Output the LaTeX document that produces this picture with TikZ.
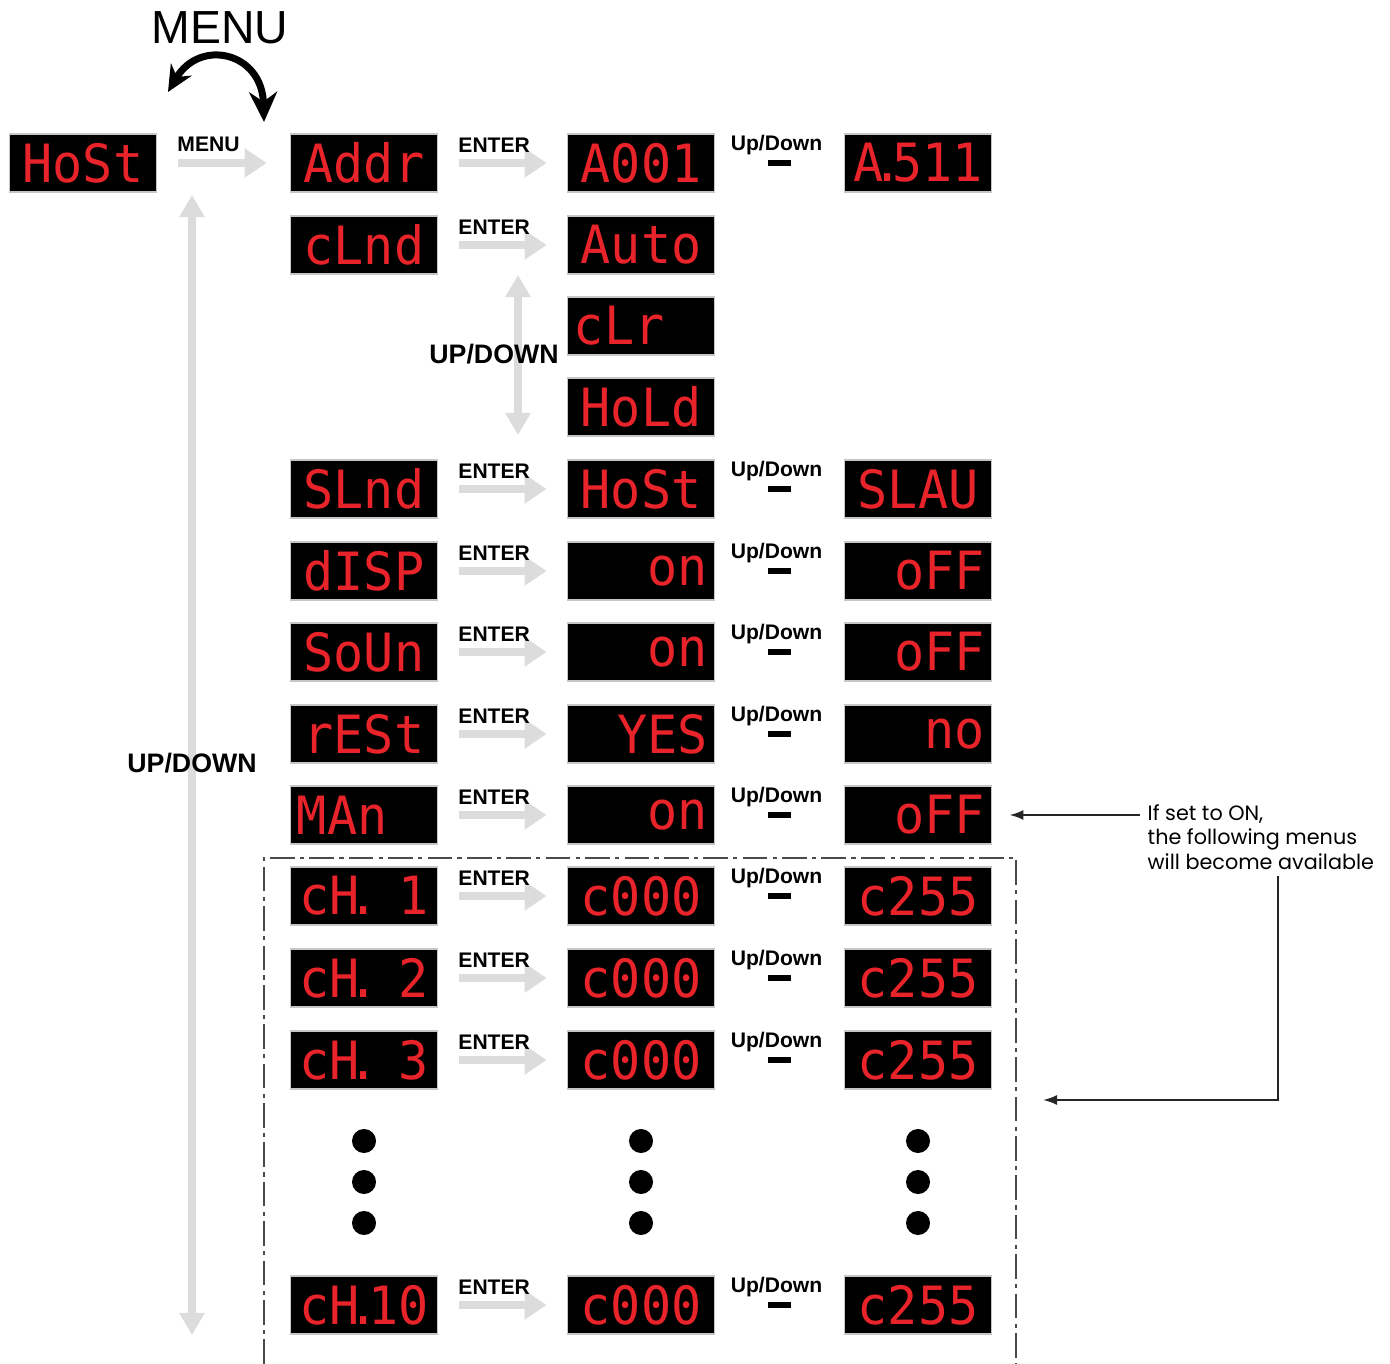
\documentclass[tikz,border=0pt]{standalone}
\usepackage{fontspec}
\setmainfont{Liberation Sans}
\newfontfamily\segfont[FakeStretch=0.95]{DejaVu Sans Mono}
\newfontfamily\notefont{Poppins}
\usetikzlibrary{arrows.meta,calc}
\definecolor{segred}{HTML}{E8232A}
\definecolor{arrowgray}{HTML}{DCDCDC}
\definecolor{framegray}{HTML}{4A4A4A}
\newcommand{\sdot}{\kern-0.2em.\kern-0.2em}
\newcommand{\sgap}{\hphantom{0}}
\tikzset{
  disp/.style={
    rectangle, fill=black, draw=gray!45, line width=0.5pt,
    minimum width=1.47cm, minimum height=0.58cm, inner sep=0pt,
    text width=1.34cm, align=center, text=segred,
    font=\segfont\fontsize{15}{15}\selectfont
  },
  dispr/.style={disp, align=right},
  displ/.style={disp, align=left},
  keylabel/.style={font=\bfseries\fontsize{6}{7}\selectfont, inner sep=0pt},
  biglabel/.style={font=\bfseries\fontsize{7.6}{9}\selectfont, inner sep=0pt},
  flowarrow/.style={draw=arrowgray, line width=0.08cm,
    -{Triangle[length=0.22cm,width=0.28cm]},
    shorten <=0.21cm, shorten >=0.2cm},
  updownarrow/.style={draw=arrowgray, line width=0.08cm,
    {Triangle[length=0.22cm,width=0.24cm]}-{Triangle[length=0.22cm,width=0.24cm]}},
  updash/.style={rectangle, fill=black, minimum width=0.23cm,
    minimum height=0.06cm, inner sep=0pt},
  menucurve/.style={draw=black, line width=0.07cm,
    {Stealth[length=0.3cm,width=0.28cm]}-{Stealth[length=0.26cm,width=0.24cm]}},
  chframe/.style={draw=framegray, line width=0.6pt,
    dash pattern=on 7pt off 1.5pt on 1.2pt off 1.5pt},
  note/.style={font=\notefont\fontsize{5.9}{6.95}\selectfont,
    align=left, inner sep=0pt},
  notearrow/.style={draw=black!85, line width=0.6pt,
    -{Latex[length=0.14cm,width=0.1cm]}},
}
\begin{document}
\begin{tikzpicture}[x=0.01cm,y=0.01cm]
  \fill[white] (0,0) rectangle (1390,-1364);
  \useasboundingbox (0,0) rectangle (1390,-1364);

  % left column: up/down through the menu
  \coordinate (udtop) at (192,-195);
  \coordinate (udbot) at (192,-1335);
  \draw[updownarrow] (udtop) -- (udbot);
  \node[biglabel] (udlabel) at (192,-763) {UP/DOWN};

  \coordinate (cltop) at (518,-275);
  \coordinate (clbot) at (518,-435);
  \draw[updownarrow] (cltop) -- (clbot);
  \node[biglabel] (cllabel) at (494,-354) {UP/DOWN};

  % MENU key
  \node[font=\fontsize{13.2}{14}\selectfont, inner sep=0pt] (menutop) at (220,-28) {MENU};
  \coordinate (menuR) at (264,-122);
  \coordinate (menuL) at (168,-92);
  \draw[menucurve] (menuR) .. controls (262,-52) and (200,-38) .. (menuL);

  \node[disp] (host) at (83,-163) {HoSt};
  \node[disp] (addr) at (364,-163) {Addr};
  \node[disp] (a001) at (641,-163) {A001};
  \node[disp] (a511) at (918,-163) {A\sdot511};
  \node[disp] (clnd) at (364,-245) {cLnd};
  \node[disp] (auto) at (641,-245) {Auto};
  \node[displ] (clr) at (641,-326) {cLr};
  \node[disp] (hold) at (641,-407) {HoLd};
  \node[disp] (slnd) at (364,-489) {SLnd};
  \node[disp] (hostb) at (641,-489) {HoSt};
  \node[disp] (slav) at (918,-489) {SLAU};
  \node[disp] (disp) at (364,-571) {dISP};
  \node[dispr] (on1) at (641,-571) {on};
  \node[dispr] (off1) at (918,-571) {oFF};
  \node[disp] (soun) at (364,-652) {SoUn};
  \node[dispr] (on2) at (641,-652) {on};
  \node[dispr] (off2) at (918,-652) {oFF};
  \node[disp] (rest) at (364,-734) {rESt};
  \node[dispr] (yes) at (641,-734) {YES};
  \node[dispr] (no) at (918,-734) {no};
  \node[displ] (man) at (364,-815) {MAn};
  \node[dispr] (on3) at (641,-815) {on};
  \node[dispr] (off3) at (918,-815) {oFF};
  \node[disp] (ch1) at (364,-896) {cH\sdot\sgap1};
  \node[disp] (c1a) at (641,-896) {c000};
  \node[disp] (c1b) at (918,-896) {c255};
  \node[disp] (ch2) at (364,-978) {cH\sdot\sgap2};
  \node[disp] (c2a) at (641,-978) {c000};
  \node[disp] (c2b) at (918,-978) {c255};
  \node[disp] (ch3) at (364,-1060) {cH\sdot\sgap3};
  \node[disp] (c3a) at (641,-1060) {c000};
  \node[disp] (c3b) at (918,-1060) {c255};
  \node[disp] (ch10) at (364,-1305) {cH\sdot10};
  \node[disp] (c10a) at (641,-1305) {c000};
  \node[disp] (c10b) at (918,-1305) {c255};

  \foreach \x in {364,641,918}
    \foreach \y in {1141,1182,1223}
      \fill (\x,-\y) circle (0.12cm);

  \draw[flowarrow, shorten >=0.23cm] (host.east) --
    node[keylabel, at start, anchor=base west, xshift=0.16cm, yshift=0.11cm] {MENU} (addr.west);
  \foreach \a/\b in {addr/a001,clnd/auto,slnd/hostb,disp/on1,soun/on2,rest/yes,man/on3,ch1/c1a,ch2/c2a,ch3/c3a,ch10/c10a}
    \draw[flowarrow] (\a.east) --
      node[keylabel, at start, anchor=base west, xshift=0.16cm, yshift=0.1cm] {ENTER} (\b.west);
  \foreach \a/\b in {a001/a511,hostb/slav,on1/off1,on2/off2,yes/no,on3/off3,c1a/c1b,c2a/c2b,c3a/c3b,c10a/c10b}
    \path (\a) -- node[updash] {} node[keylabel, anchor=base, yshift=0.12cm, xshift=-0.03cm] {Up/Down} (\b);

  % channel menus, shown when MAn is on
  \coordinate (fbl) at (264,-1364);
  \coordinate (ftl) at (264,-858);
  \coordinate (ftr) at (1016,-858);
  \coordinate (fbr) at (1016,-1364);
  \draw[chframe] (fbl) -- (ftl) -- (ftr) -- (fbr);

  \node[note, anchor=north west] (note) at (1147,-804)
    {If set to ON,\\the following menus\\will become available};
  \draw[notearrow, shorten <=0.07cm, shorten >=0.17cm] (note.west |- off3) -- (off3.east);
  \coordinate (noteleg) at (1278,-876);
  \coordinate (boxin) at (1043,-1100);
  \draw[notearrow] (noteleg) |- (boxin);
\end{tikzpicture}
\end{document}
